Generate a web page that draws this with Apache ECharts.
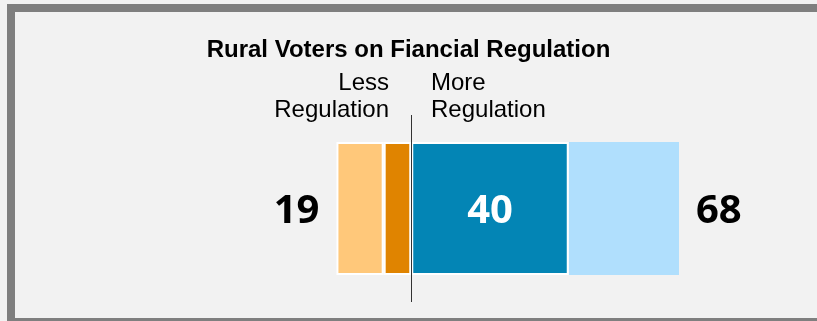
<!DOCTYPE html>
<html>
<head>
<meta charset="utf-8">
<script src="https://cdn.jsdelivr.net/npm/echarts@6/dist/echarts.min.js"></script>
<style>
  html, body { margin: 0; padding: 0; background: #f2f2f2; }
  #main { width: 817px; height: 321px; }
</style>
</head>
<body>
<div id="main"></div>
<script>
var categories = ['Rural'];
var lessLight = [12];   // light orange, outer part of "less regulation"
var lessDark = [7];     // dark orange, next to the center line
var moreDark = [40];    // dark blue
var moreLight = [28];   // light blue
var lessTotal = [19];
var moreTotal = [68];

var numFont = { fontFamily: 'Open Sans', fontWeight: 'bold', fontSize: 40, offset: [0, 3] };

var myChart = echarts.init(document.getElementById('main'));

var option = {
  backgroundColor: '#f2f2f2',
  animation: false,
  title: {
    text: 'Rural Voters on Fiancial Regulation',
    left: 'center',
    top: 33,
    textStyle: { fontFamily: 'Liberation Sans', fontWeight: 'bold', fontSize: 24, color: '#000' }
  },
  graphic: [
    // frame
    { type: 'rect', shape: { x: 11, y: 8, width: 830, height: 314 },
      style: { fill: 'none', stroke: '#7f7f7f', lineWidth: 8 }, silent: true },
    { type: 'text', x: 389, y: 70,
      style: { text: 'Less\nRegulation', align: 'right', verticalAlign: 'top',
        font: '24px "Liberation Sans"', lineHeight: 27, fill: '#000' } },
    { type: 'text', x: 431, y: 70,
      style: { text: 'More\nRegulation', align: 'left', verticalAlign: 'top',
        font: '24px "Liberation Sans"', lineHeight: 27, fill: '#000' } }
  ],
  grid: { left: 175, width: 630, top: 115, height: 187 },
  xAxis: { type: 'value', min: -60, max: 100, show: false },
  yAxis: { type: 'category', data: categories, show: false },
  series: [
    {
      name: 'Less (dark)', type: 'bar', stack: 'total', barWidth: 133, z: 2,
      data: lessDark.map(function (v) { return -v; }),
      itemStyle: { color: '#e08400', borderColor: '#ffffff', borderWidth: 2 }
    },
    {
      name: 'Less (light)', type: 'bar', stack: 'total', barWidth: 133, z: 2,
      data: lessLight.map(function (v) { return -v; }),
      itemStyle: { color: '#ffc87a', borderColor: '#ffffff', borderWidth: 2 },
      label: Object.assign({
        show: true, position: 'left', distance: 17, color: '#000',
        formatter: function (p) { return lessTotal[p.dataIndex]; }
      }, numFont)
    },
    {
      name: 'More (dark)', type: 'bar', stack: 'total', barWidth: 133, z: 3,
      data: moreDark,
      itemStyle: { color: '#0385b5', borderColor: '#ffffff', borderWidth: 2 },
      label: Object.assign({ show: true, position: 'inside', color: '#fff' }, numFont)
    },
    {
      name: 'More (light)', type: 'bar', stack: 'total', barWidth: 133, z: 2,
      data: moreLight,
      itemStyle: { color: '#b0dffd' },
      label: Object.assign({
        show: true, position: 'right', distance: 17, color: '#000',
        formatter: function (p) { return moreTotal[p.dataIndex]; }
      }, numFont)
    },
    {
      name: 'center', type: 'line', data: [], z: 10,
      markLine: {
        silent: true, symbol: 'none', label: { show: false },
        lineStyle: { color: '#333', width: 1, type: 'solid' },
        data: [{ xAxis: 0 }]
      }
    }
  ]
};

myChart.setOption(option);
</script>
</body>
</html>
